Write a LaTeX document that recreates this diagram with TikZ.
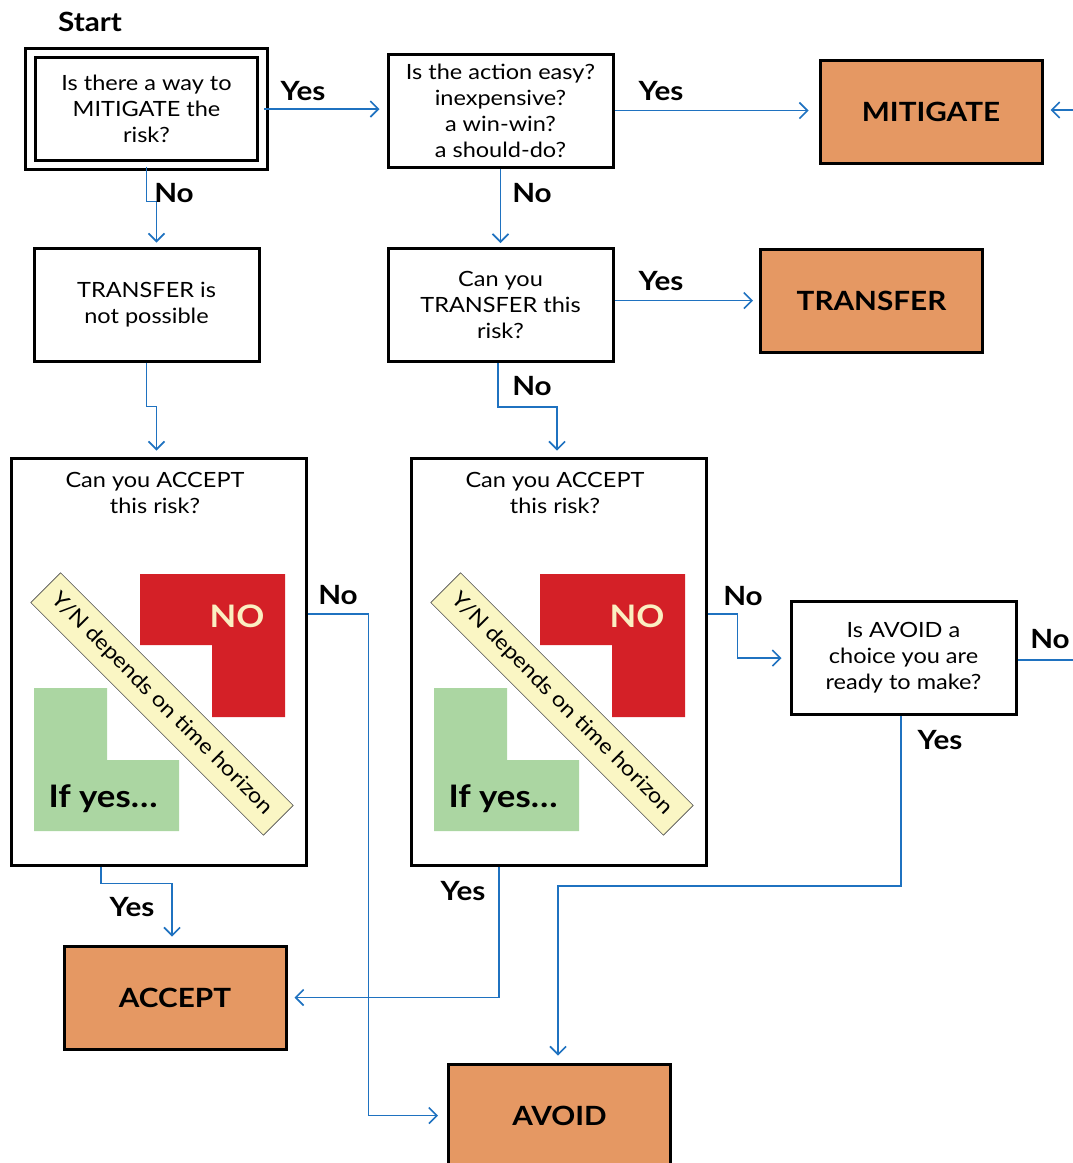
\documentclass[tikz,border=0pt]{standalone}
\usepackage{fontspec}
\setmainfont{Lato}[FakeStretch=1.12]
\usetikzlibrary{arrows.meta,positioning}

\definecolor{flowblue}{HTML}{1F72C0}
\definecolor{actorange}{HTML}{E59863}
\definecolor{nored}{HTML}{D42027}
\definecolor{yesgreen}{HTML}{ABD6A2}
\definecolor{bandyellow}{HTML}{FAF6C4}
\definecolor{notext}{HTML}{FBEFC2}

\newcommand\fsz[2]{\fontsize{#1}{#2}\selectfont}

\tikzset{
  box/.style={draw, line width=3pt, align=center, minimum width=225pt,
              minimum height=113pt, inner sep=4pt, font=\fsz{21}{26}},
  act/.style={draw, line width=3pt, fill=actorange, minimum width=222pt,
              minimum height=103pt, font=\bfseries\fsz{26.5}{30}},
  accbox/.style={draw, line width=3pt, minimum width=295pt, minimum height=407pt},
  band/.style={draw=black!70, line width=0.6pt, fill=bandyellow, rotate=-45,
               minimum width=329pt, minimum height=42pt, inner sep=0pt,
               font=\fsz{21}{24}},
  lbl/.style={font=\bfseries\fsz{26.5}{28}, inner sep=0pt},
  flowline/.style={draw=flowblue, line width=1.6pt},
  flow/.style={flowline, -{Straight Barb[length=8pt,width=16pt,line width=1.6pt]},
               shorten >=7pt}
}

\begin{document}
\begin{tikzpicture}[x=1pt,y=-1pt]
\useasboundingbox (0,0) rectangle (1073,1163);

% questions
\node[box, double, double distance=6.5pt, minimum width=232pt, minimum height=112pt]
  (q1) at (146.5,109) {Is there a way to\\MITIGATE the\\risk?};
\node[box] (q2) at (500.5,110.5) {Is the action easy?\\inexpensive?\\a win-win?\\a should-do?};
\node[box] (nt) at (146.5,304.5) {TRANSFER is\\not possible};
\node[box] (q3) at (500.5,305) {Can you\\TRANSFER this\\risk?};
\node[box] (q4) at (903.5,658) {Is AVOID a\\choice you are\\ready to make?};

% outcomes
\node[act] (mit) at (931,111.5) {MITIGATE};
\node[act] (tra) at (871.5,300.5) {TRANSFER};
\node[act] (accept) at (175,997.5) {ACCEPT};
\node[act] (avoid) at (559.5,1115.5) {AVOID};

% the two accept boxes
\foreach \n/\dx in {1/0,2/400}{
  \node[accbox] (acc\n) at (158.5+\dx,661.5) {};
  \node[font=\fsz{21}{26}, align=center] (acct\n) at (155+\dx,493) {Can you ACCEPT\\this risk?};
  \fill[nored] (140+\dx,574) -- (285+\dx,574) -- (285+\dx,717) -- (212+\dx,717)
    -- (212+\dx,645) -- (140+\dx,645) -- cycle;
  \fill[yesgreen] (34+\dx,688) -- (107+\dx,688) -- (107+\dx,760) -- (179+\dx,760)
    -- (179+\dx,831) -- (34+\dx,831) -- cycle;
  \node[text=notext, font=\bfseries\fsz{31}{32}] (no\n) at (237+\dx,616) {NO};
  \node[font=\bfseries\fsz{31}{32}] (ify\n) at (103+\dx,799) {If yes\dots};
  \node[band] (band\n) at (162+\dx,704) {Y/N depends on time horizon};
}

% free ends at the right edge
\coordinate (mitin) at (1075,110);
\coordinate (q4out) at (1075,660);

% connectors
\draw[flow] (q1.east) -- (q1.east -| q2.west);
\draw[flow, shorten >=10pt] (q2.east) -- (q2.east -| mit.west);
\draw[flow] (mitin) -- (mitin -| mit.east);
\draw[flow, shorten >=4pt] (q1.south) -- ++(0,35) -| ([xshift=10pt]nt.north);
\draw[flow, shorten >=4pt] (q2.south) -- (q3.north);
\draw[flow, shorten >=6pt] (q3.east |- tra.west) -- (tra.west);
\draw[flow, shorten >=6pt] (nt.south) -- ++(0,44) -| ([xshift=-2pt]acc1.north);
\draw[flow, shorten >=6pt] ([xshift=-2.5pt]q3.south) -- ++(0,44) -| ([xshift=-1.5pt]acc2.north);
\draw[flow, shorten >=9pt] ([yshift=47.5pt]acc1.east) -- ++(61,0) |- (avoid.west);
\draw[flow, shorten >=8pt] ([xshift=-57.5pt]acc1.south) -- ++(0,17) -| ([xshift=-3pt]accept.north);
\draw[flow, shorten >=8pt] ([yshift=47.5pt]acc2.east) -- ++(30,0) |- (q4.west);
\draw[flow] ([xshift=-59.5pt]acc2.south) |- (accept.east);
\draw[flow] ([xshift=-2.5pt]q4.south) -- ++(0,170) -| ([xshift=-1.5pt]avoid.north);
\draw[flowline] ([yshift=-2pt]q4.east) -- (q4out);

% labels
\node[lbl] (start) at (90,22) {Start};
\node[lbl] (y1) at (303,91) {Yes};
\node[lbl] (y2) at (661,91) {Yes};
\node[lbl] (n1) at (174,193) {No};
\node[lbl] (n2) at (532,193) {No};
\node[lbl] (y3) at (661,281) {Yes};
\node[lbl] (n3) at (532,386) {No};
\node[lbl] (n4) at (338,595) {No};
\node[lbl] (n5) at (743,596) {No};
\node[lbl] (n6) at (1050,639) {No};
\node[lbl] (y4) at (940,740) {Yes};
\node[lbl] (y5) at (132,907) {Yes};
\node[lbl] (y6) at (463,891) {Yes};
\end{tikzpicture}
\end{document}
